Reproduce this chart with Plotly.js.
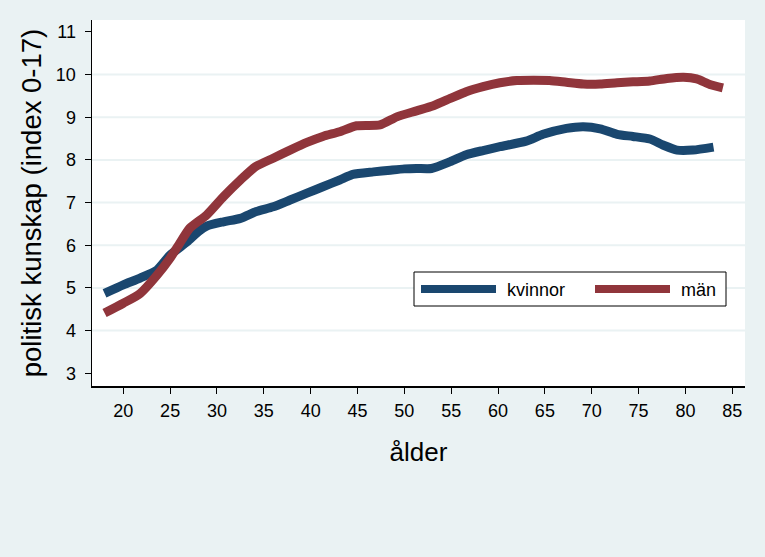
<!DOCTYPE html>
<html>
<head>
<meta charset="utf-8">
<script src="https://cdn.plot.ly/plotly-3.0.1.min.js"></script>
<style>html,body{margin:0;padding:0;background:#EAF2F3;}#chart{width:765px;height:557px;}</style>
</head>
<body>
<div id="chart"></div>
<script>
const ageK = [18, 20, 21.8, 23.6, 25, 26.8, 28, 28.9, 30.7, 32.5, 34.2, 36, 37.8, 39.6, 41.3, 43.1, 44.5, 46.7, 48.5, 50, 51.3, 52.9, 54.9, 56.6, 58.4, 60.2, 63, 64.8, 67.3, 69.1, 70.9, 72.7, 74.4, 76.2, 77.6, 79.1, 80.8, 83];
const kvinnor = [4.87, 5.07, 5.23, 5.42, 5.77, 6.08, 6.32, 6.45, 6.55, 6.63, 6.79, 6.9, 7.06, 7.22, 7.37, 7.53, 7.66, 7.72, 7.76, 7.79, 7.8, 7.8, 7.96, 8.12, 8.22, 8.31, 8.44, 8.6, 8.74, 8.78, 8.73, 8.6, 8.55, 8.49, 8.35, 8.23, 8.23, 8.3];
const ageM = [18, 20, 21.8, 23.6, 25, 25.9, 27.1, 28.9, 30.7, 32.5, 34.1, 36, 37.8, 39.6, 41.3, 43.1, 44.9, 47.4, 49.2, 51.3, 53.1, 54.9, 56.6, 58.4, 60.2, 62, 63.8, 65.5, 67.3, 69.1, 70.9, 72.7, 74.4, 76.2, 78, 79.8, 81.2, 82.6, 84];
const man = [4.41, 4.64, 4.87, 5.3, 5.7, 6.0, 6.4, 6.71, 7.14, 7.53, 7.84, 8.04, 8.23, 8.41, 8.55, 8.66, 8.8, 8.82, 9.01, 9.15, 9.27, 9.44, 9.6, 9.72, 9.81, 9.86, 9.87, 9.86, 9.82, 9.78, 9.78, 9.81, 9.83, 9.85, 9.91, 9.94, 9.9, 9.77, 9.69];
const xTicks = [20, 25, 30, 35, 40, 45, 50, 55, 60, 65, 70, 75, 80, 85];
const yTicks = [3, 4, 5, 6, 7, 8, 9, 10, 11];
const gridVals = [4, 5, 6, 7, 8, 9, 10];
const seriesNames = ['kvinnor', 'män'];

const BLUE = '#1A476F', RED = '#90353B', BG = '#EAF2F3';
const FONT = 'Liberation Sans, Arial, Helvetica, sans-serif';

const traces = [
  {x: ageK, y: kvinnor, name: seriesNames[0], mode: 'lines', line: {color: BLUE, width: 9, shape: 'spline', smoothing: 0.6}},
  {x: ageM, y: man, name: seriesNames[1], mode: 'lines', line: {color: RED, width: 9, shape: 'spline', smoothing: 0.6}}
];

const shapes = gridVals.map(v => ({type: 'line', xref: 'paper', yref: 'y', x0: 0, x1: 1, y0: v, y1: v, line: {color: BG, width: 2}, layer: 'below'}));
// legend box
shapes.push({type: 'rect', xref: 'paper', yref: 'paper', x0: (414 - 92) / 653, x1: (726 - 92) / 653, y0: (386 - 306) / 366, y1: (386 - 272) / 366, line: {color: '#000', width: 1}, fillcolor: '#fff'});
shapes.push({type: 'line', xref: 'paper', yref: 'paper', x0: (421 - 92) / 653, x1: (496 - 92) / 653, y0: (386 - 289) / 366, y1: (386 - 289) / 366, line: {color: BLUE, width: 8}});
shapes.push({type: 'line', xref: 'paper', yref: 'paper', x0: (595 - 92) / 653, x1: (670 - 92) / 653, y0: (386 - 289) / 366, y1: (386 - 289) / 366, line: {color: RED, width: 8}});

const annotations = [
  {xref: 'paper', yref: 'paper', x: (505 - 92) / 653, y: (386 - 290) / 366, xanchor: 'left', yanchor: 'middle', text: seriesNames[0], showarrow: false, font: {family: FONT, size: 18, color: '#000'}},
  {xref: 'paper', yref: 'paper', x: (679 - 92) / 653, y: (386 - 290) / 366, xanchor: 'left', yanchor: 'middle', text: seriesNames[1], showarrow: false, font: {family: FONT, size: 18, color: '#000'}}
];

const layout = {
  width: 765, height: 557,
  paper_bgcolor: BG, plot_bgcolor: '#fff',
  margin: {l: 92, r: 20, t: 20, b: 171, pad: 0},
  showlegend: false,
  font: {family: FONT, color: '#000'},
  xaxis: {
    range: [16.66, 86.36], tickvals: xTicks, ticks: 'outside', ticklen: 6, tickwidth: 1, tickcolor: '#000',
    showgrid: false, zeroline: false, showline: true, linecolor: '#000', linewidth: 1.5,
    tickfont: {size: 18, family: FONT}, ticklabelstandoff: 2,
    title: {text: 'ålder', font: {size: 26, family: FONT}, standoff: 22}
  },
  yaxis: {
    range: [2.7, 11.28], tickvals: yTicks, ticks: 'outside', ticklen: 6, tickwidth: 1, tickcolor: '#000',
    showgrid: false, zeroline: false, showline: true, linecolor: '#000', linewidth: 1.5,
    tickfont: {size: 18, family: FONT}, ticklabelstandoff: 5,
    title: {text: 'politisk kunskap (index 0-17)', font: {size: 27.5, family: FONT}, standoff: 6}
  },
  shapes: shapes,
  annotations: annotations
};

Plotly.newPlot('chart', traces, layout, {displayModeBar: false, staticPlot: true});
</script>
</body>
</html>
